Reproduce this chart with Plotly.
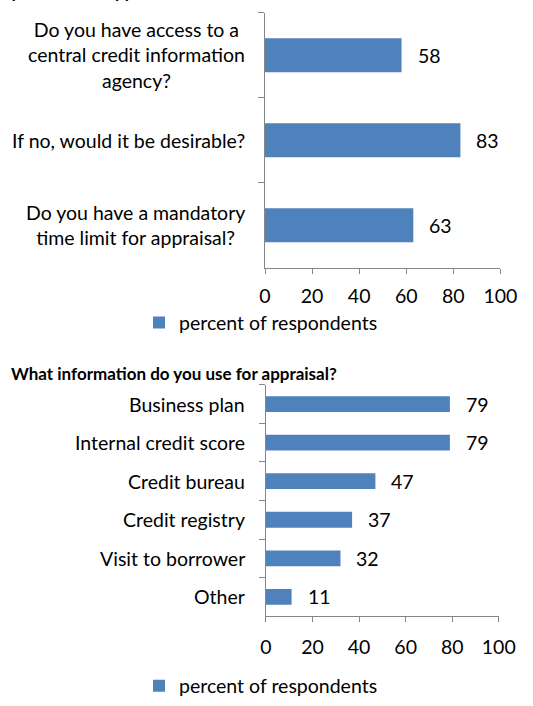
import plotly.graph_objects as go

W, H = 533, 706

# Survey answers: access to credit information and appraisal practice
access_labels = [
    "Do you have access to a<br>central credit information<br>agency?",
    "If no, would it be desirable?",
    "Do you have a mandatory<br>time limit for appraisal?",
]
access_values = [58, 83, 63]

info_labels = [
    "Business plan",
    "Internal credit score",
    "Credit bureau",
    "Credit registry",
    "Visit to borrower",
    "Other",
]
info_values = [79, 79, 47, 37, 32, 11]

x_ticks = [0, 20, 40, 60, 80, 100]
series_name = "percent of respondents"
top_title = "Eligibility criteria for appraisal"
bottom_title = "What information do you use for appraisal?"

FONT = "Lato, Carlito, Calibri, sans-serif"
FS = 19.5
BAR = "#4F81BD"
AXIS = "#868686"
TEXT = "#000000"


def px_x(p):
    return p / W


def px_y(p):
    return 1 - p / H


fig = go.Figure()

fig.add_trace(go.Bar(
    x=access_values, y=access_labels, orientation="h",
    marker=dict(color=BAR, line=dict(width=0)), width=0.4,
    name=series_name, xaxis="x", yaxis="y", legend="legend",
    hoverinfo="x+y",
))
fig.add_trace(go.Bar(
    x=info_values, y=info_labels, orientation="h",
    marker=dict(color=BAR, line=dict(width=0)), width=0.41,
    name=series_name, xaxis="x2", yaxis="y2", legend="legend2",
    hoverinfo="x+y",
))

xaxis_common = dict(
    range=[0, 100], tickvals=x_ticks, ticks="outside", ticklen=5,
    tickcolor=AXIS, tickwidth=1.3, showline=True, linecolor=AXIS,
    linewidth=1.3, showgrid=False, zeroline=False,
    tickfont=dict(family=FONT, size=FS, color=TEXT), fixedrange=True,
)
yaxis_common = dict(
    type="category", autorange="reversed", showticklabels=False,
    ticks="outside", ticklen=6, tickcolor=AXIS, tickwidth=1.3,
    tickson="boundaries", showline=True, linecolor=AXIS, linewidth=1.3,
    showgrid=False, zeroline=False, fixedrange=True,
)

fig.update_layout(
    width=W, height=H,
    margin=dict(l=0, r=0, t=0, b=0),
    paper_bgcolor="white", plot_bgcolor="white",
    font=dict(family=FONT, size=FS, color=TEXT),
    showlegend=True,
    xaxis=dict(domain=[px_x(270.7), px_x(516.7)], anchor="y",
               ticklabelstandoff=6, **xaxis_common),
    yaxis=dict(domain=[px_y(272.7), px_y(13)], anchor="x",
               categoryarray=access_labels, **yaxis_common),
    xaxis2=dict(domain=[px_x(271.7), px_x(515)], anchor="y2",
                ticklabelstandoff=8, **xaxis_common),
    yaxis2=dict(domain=[px_y(627.7), px_y(392)], anchor="x2",
                categoryarray=info_labels, **yaxis_common),
    legend=dict(x=px_x(139), y=px_y(329), xanchor="left", yanchor="middle",
                font=dict(family=FONT, size=FS, color=TEXT),
                bgcolor="rgba(0,0,0,0)"),
    legend2=dict(x=px_x(139), y=px_y(699), xanchor="left", yanchor="middle",
                 font=dict(family=FONT, size=FS, color=TEXT),
                 bgcolor="rgba(0,0,0,0)"),
)

annotations = []

# Category labels, centred line by line to the left of each axis
for lab in access_labels:
    annotations.append(dict(
        x=px_x(252), xref="paper", xanchor="right", y=lab, yref="y",
        yanchor="middle", text=lab, align="center", showarrow=False,
        font=dict(family=FONT, size=FS, color=TEXT),
    ))
for lab in info_labels:
    annotations.append(dict(
        x=px_x(252), xref="paper", xanchor="right", y=lab, yref="y2",
        yanchor="middle", text=lab, align="right", showarrow=False,
        font=dict(family=FONT, size=FS, color=TEXT),
    ))

# Value labels just past the end of each bar
for lab, v in zip(access_labels, access_values):
    annotations.append(dict(
        x=v, xref="x", y=lab, yref="y", xanchor="left", yanchor="middle",
        xshift=14, text=str(v), showarrow=False,
        font=dict(family=FONT, size=FS, color=TEXT),
    ))
for lab, v in zip(info_labels, info_values):
    annotations.append(dict(
        x=v, xref="x2", y=lab, yref="y2", xanchor="left", yanchor="middle",
        xshift=14, text=str(v), showarrow=False,
        font=dict(family=FONT, size=FS, color=TEXT),
    ))

# Section headings
annotations.append(dict(
    x=px_x(178), xref="paper", xanchor="right", y=px_y(-8.5), yref="paper",
    yanchor="middle", text="<b>%s</b>" % top_title, showarrow=False,
    font=dict(family=FONT, size=17, color=TEXT),
))
annotations.append(dict(
    x=px_x(348), xref="paper", xanchor="right", y=px_y(380), yref="paper",
    yanchor="middle", text="<b>%s</b>" % bottom_title, showarrow=False,
    font=dict(family=FONT, size=17, color=TEXT),
))

fig.update_layout(annotations=annotations)

fig.write_html("out.html")
